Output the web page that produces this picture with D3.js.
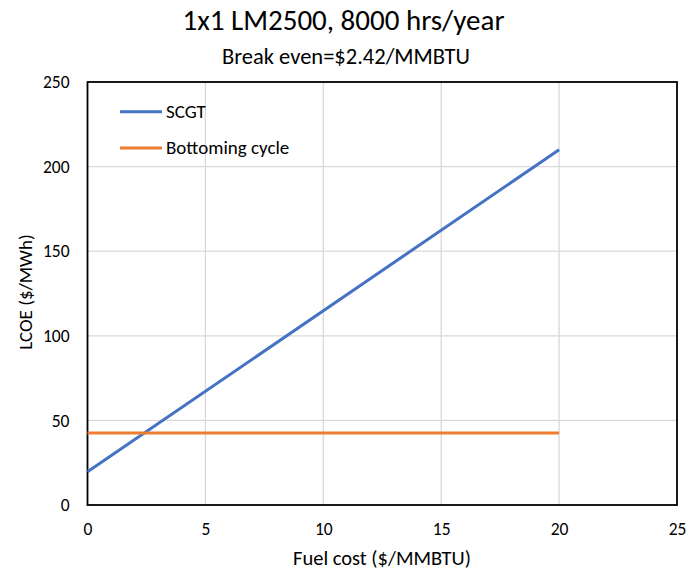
<!DOCTYPE html>
<html><head><meta charset="utf-8">
<script src="https://cdn.jsdelivr.net/npm/d3@7"></script>
<style>body{margin:0;background:#fff}svg{display:block}text{font-family:Carlito,Lato,"Open Sans",sans-serif;fill:#000}</style>
</head><body><svg id="c" width="687" height="572"></svg>
<script>
const fuelCost = [0, 20];
const scgt = [19.6, 210.0];
const bottoming = [42.6, 42.6];
const seriesNames = ["SCGT", "Bottoming cycle"];
const seriesColors = ["#4472C4", "#ED7D31"];
const xTicks = [0, 5, 10, 15, 20, 25];
const yTicks = [0, 50, 100, 150, 200, 250];
const title = "1x1 LM2500, 8000 hrs/year";
const subtitle = "Break even=$2.42/MMBTU";
const xTitle = "Fuel cost ($/MMBTU)";
const yTitle = "LCOE ($/MWh)";

const svg = d3.select("#c");
const L = 87.5, R = 677, T = 82, B = 505;
const x = d3.scaleLinear().domain([0, 25]).range([L, R]);
const y = d3.scaleLinear().domain([0, 250]).range([B, T]);

// grid
svg.append("g").selectAll("line").data(xTicks.slice(1, -1)).join("line")
  .attr("x1", d => x(d)).attr("x2", d => x(d)).attr("y1", T).attr("y2", B)
  .attr("stroke", "#d9d9d9").attr("stroke-width", 1.3);
svg.append("g").selectAll("line").data(yTicks.slice(1, -1)).join("line")
  .attr("y1", d => y(d)).attr("y2", d => y(d)).attr("x1", L).attr("x2", R)
  .attr("stroke", "#d9d9d9").attr("stroke-width", 1.3);

// axes (labels only)
const xAxis = svg.append("g").attr("transform", `translate(0,${B})`)
  .call(d3.axisBottom(x).tickValues(xTicks).tickSize(0).tickPadding(18));
const yAxis = svg.append("g").attr("transform", `translate(${L},0)`)
  .call(d3.axisLeft(y).tickValues(yTicks).tickSize(0).tickPadding(18));
[xAxis, yAxis].forEach(g => {
  g.select(".domain").remove();
  g.selectAll("text").style("font-size", "17.5px").style("font-family", "Carlito,Lato,sans-serif").attr("fill", "#000");
});

// frame
svg.append("rect").attr("x", L).attr("y", T).attr("width", R - L).attr("height", B - T)
  .attr("fill", "none").attr("stroke", "#000").attr("stroke-width", 1.8);

// series
const line = d3.line().x(d => x(d[0])).y(d => y(d[1]));
const data = [scgt, bottoming];
data.forEach((vals, i) => {
  svg.append("path").datum(fuelCost.map((f, j) => [f, vals[j]]))
    .attr("d", line).attr("fill", "none").attr("stroke", seriesColors[i])
    .attr("stroke-width", 3);
});

// legend
const legY = [111.7, 148];
seriesNames.forEach((n, i) => {
  svg.append("line").attr("x1", 120).attr("x2", 162).attr("y1", legY[i]).attr("y2", legY[i])
    .attr("stroke", seriesColors[i]).attr("stroke-width", 3);
  svg.append("text").attr("x", 166).attr("y", legY[i] + 6).style("font-size", "19px").text(n);
});

// titles
svg.append("text").attr("x", 343.5).attr("y", 30).attr("text-anchor", "middle").style("font-size", "29px").text(title);
svg.append("text").attr("x", 346).attr("y", 64).attr("text-anchor", "middle").style("font-size", "22.5px").text(subtitle);
svg.append("text").attr("x", 382).attr("y", 565).attr("text-anchor", "middle").style("font-size", "20.5px").text(xTitle);
svg.append("text").attr("transform", "translate(32,292) rotate(-90)").attr("text-anchor", "middle").style("font-size", "19px").text(yTitle);
</script></body></html>
